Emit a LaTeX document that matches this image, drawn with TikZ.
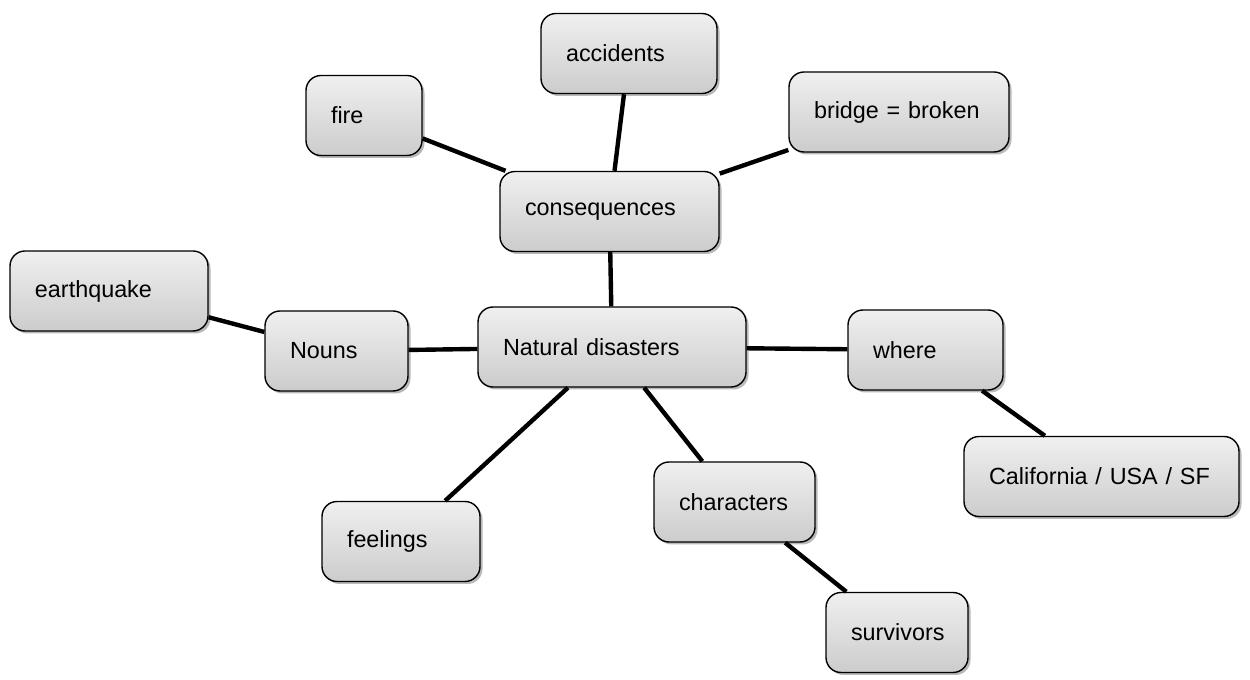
\documentclass[tikz,border=0pt]{standalone}
\usepackage{fontspec}
\setmainfont{Liberation Sans}
\usetikzlibrary{shadows}
\tikzset{box/.style = {draw=black, line width = 0.8, rounded corners = 0.3cm,
   top color = gray!12, bottom color = gray!40,
   drop shadow = {shadow xshift = 0.05cm, shadow yshift = -0.05cm, fill = black!55},
   inner xsep = 0.5cm, minimum height = 1.6cm, text width = #1, align = left,
   font = \fontsize{13.3}{15}\selectfont}}
\tikzset{link/.style = {line width = 2.5, black}}

\begin{document}
\begin{tikzpicture}
		\useasboundingbox (0,0) rectangle (25,13.6);
		
		% Boxes
		\node[box=4.36cm] (disasters) at (12.24,6.66) {Natural disasters};
		\node[box=3.38cm] (consequences) at (12.19,9.37) {consequences};
		\node[box=2.52cm] (accidents) at (12.58,12.53) {accidents};
		\node[box=1.32cm] (fire) at (7.28,11.29) {fire};
		\node[box=3.40cm] (bridge) at (17.98,11.36) {bridge = broken};
		\node[box=1.86cm] (nouns) at (6.73,6.58) {Nouns};
		\node[box=2.96cm] (earthquake) at (2.18,7.78) {earthquake};
		\node[box=2.10cm] (where) at (18.51,6.6) {where};
		\node[box=4.50cm] (california) at (22.03,4.07) {California / USA / SF};
		\node[box=2.22cm] (characters) at (14.69,3.56) {characters};
		\node[box=2.16cm] (feelings) at (8.02,2.77) {feelings};
		\node[box=1.84cm] (survivors) at (17.94,0.95) {survivors};
		
		% Links
		\draw[link] (consequences) -- (fire);
		\draw[link] (consequences) -- (accidents);
		\draw[link] (consequences) -- (bridge);
		\draw[link] (disasters) -- (consequences);
		\draw[link] (disasters) -- (nouns);
		\draw[link] (nouns) -- (earthquake);
		\draw[link] (disasters) -- (where);
		\draw[link] (where) -- (california);
		\draw[link] (disasters) -- (feelings);
		\draw[link] (disasters) -- (characters);
		\draw[link] (characters) -- (survivors);
	\end{tikzpicture}
\end{document}
